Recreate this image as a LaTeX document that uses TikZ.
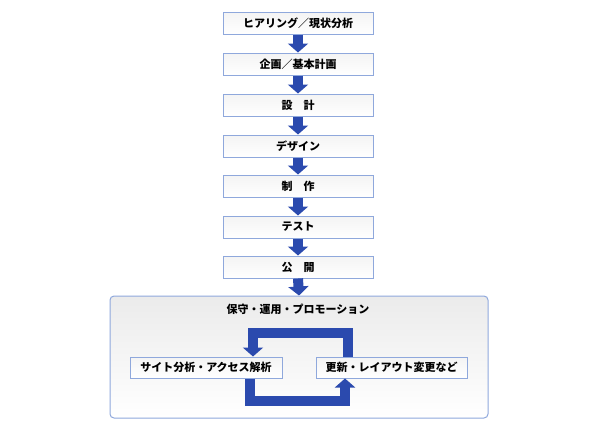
\documentclass[tikz,border=0pt]{standalone}
\usepackage{fontspec}
\setmainfont{Noto Sans CJK JP}
\usetikzlibrary{arrows.meta, positioning}
\definecolor{flBlue}{HTML}{2B4AAE}
\definecolor{flEdge}{HTML}{8FA8DC}
\definecolor{flPanel}{HTML}{EBEBEB}
\tikzset{
  stepbox/.style={
    draw=flEdge, line width=1pt, top color=gray!9, bottom color=white,
    minimum width=150pt, minimum height=22pt, inner sep=0pt,
    font=\fontsize{11}{12}\selectfont\bfseries
  },
  subbox/.style={stepbox, minimum width=152pt, minimum height=21pt},
  panel/.style={
    draw=flEdge, line width=1pt, rounded corners=4pt,
    top color=flPanel, bottom color=white,
    minimum width=378pt, minimum height=122pt
  },
  paneltitle/.style={font=\fontsize{11}{12}\selectfont\bfseries, inner sep=0pt},
  flowarrow/.style={
    draw=flBlue, line width=10pt, line join=miter,
    -{Triangle[width=20pt, length=9pt]}
  }
}
\begin{document}
\begin{tikzpicture}[x=1pt, y=-1pt]
  \useasboundingbox (0,0) rectangle (600,432);

  % main flow
  \node[stepbox] (s1) at (298,23)  {ヒアリング／現状分析};
  \node[stepbox] (s2) at (298,64)  {企画／基本計画};
  \node[stepbox] (s3) at (298,105) {設　計};
  \node[stepbox] (s4) at (298,146) {デザイン};
  \node[stepbox] (s5) at (298,186) {制　作};
  \node[stepbox] (s6) at (298,227) {テスト};
  \node[stepbox] (s7) at (298,267) {公　開};

  % maintenance panel
  \node[panel] (pn) at (299,357) {};
  \node[paneltitle] (pt) at (298,309) {保守・運用・プロモーション};
  \node[subbox] (lt) at (206,367.5)   {サイト分析・アクセス解析};
  \node[subbox, minimum width=151pt] (rt) at (391.5,367.5) {更新・レイアウト変更など};

  \foreach \a/\b in {s1/s2, s2/s3, s3/s4, s4/s5, s5/s6, s6/s7, s7/pn}
    \draw[flowarrow] (\a.south) -- (\b.north);

  % cycle
  \draw[flowarrow] ([xshift=-43.5pt]rt.north) -- ++(0,-24) -| ([xshift=47pt]lt.north);
  \draw[flowarrow] ([xshift=44pt]lt.south) -- ++(0,22.5) -| ([xshift=-46.5pt]rt.south);
\end{tikzpicture}
\end{document}
